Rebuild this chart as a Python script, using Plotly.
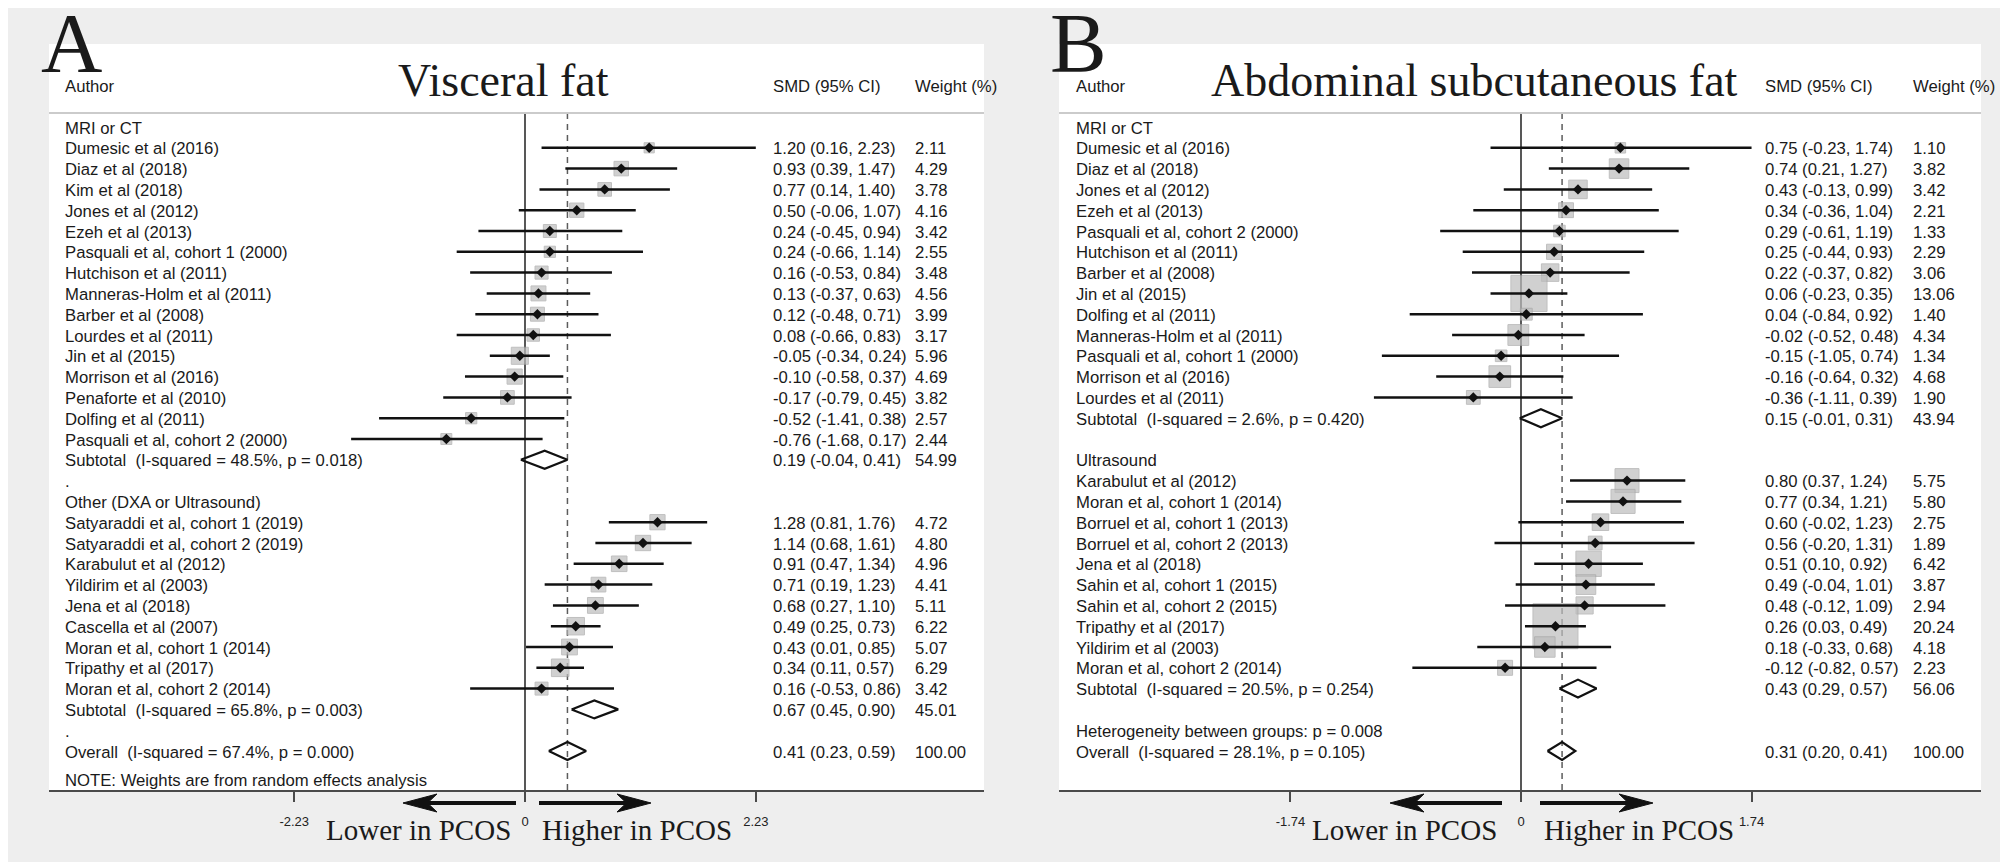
import plotly.graph_objects as go

W, H = 2008, 862

# ---------------- Panel A: Visceral fat ----------------
a_title = "Visceral fat"
a_g1_name = "MRI or CT"
a_g1_authors = ["Dumesic et al (2016)", "Diaz et al (2018)", "Kim et al (2018)", "Jones et al (2012)",
                "Ezeh et al (2013)", "Pasquali et al, cohort 1 (2000)", "Hutchison et al (2011)",
                "Manneras-Holm et al (2011)", "Barber et al (2008)", "Lourdes et al (2011)",
                "Jin et al (2015)", "Morrison et al (2016)", "Penaforte et al (2010)",
                "Dolfing et al (2011)", "Pasquali et al, cohort 2 (2000)"]
a_g1_smd = [1.20, 0.93, 0.77, 0.50, 0.24, 0.24, 0.16, 0.13, 0.12, 0.08, -0.05, -0.10, -0.17, -0.52, -0.76]
a_g1_lo = [0.16, 0.39, 0.14, -0.06, -0.45, -0.66, -0.53, -0.37, -0.48, -0.66, -0.34, -0.58, -0.79, -1.41, -1.68]
a_g1_hi = [2.23, 1.47, 1.40, 1.07, 0.94, 1.14, 0.84, 0.63, 0.71, 0.83, 0.24, 0.37, 0.45, 0.38, 0.17]
a_g1_wt = [2.11, 4.29, 3.78, 4.16, 3.42, 2.55, 3.48, 4.56, 3.99, 3.17, 5.96, 4.69, 3.82, 2.57, 2.44]
a_g1_sub = [0.19, -0.04, 0.41, 54.99]
a_g1_sub_label = "Subtotal  (I-squared = 48.5%, p = 0.018)"

a_g2_name = "Other (DXA or Ultrasound)"
a_g2_authors = ["Satyaraddi et al, cohort 1 (2019)", "Satyaraddi et al, cohort 2 (2019)",
                "Karabulut et al (2012)", "Yildirim et al (2003)", "Jena et al (2018)",
                "Cascella et al (2007)", "Moran et al, cohort 1 (2014)", "Tripathy et al (2017)",
                "Moran et al, cohort 2 (2014)"]
a_g2_smd = [1.28, 1.14, 0.91, 0.71, 0.68, 0.49, 0.43, 0.34, 0.16]
a_g2_lo = [0.81, 0.68, 0.47, 0.19, 0.27, 0.25, 0.01, 0.11, -0.53]
a_g2_hi = [1.76, 1.61, 1.34, 1.23, 1.10, 0.73, 0.85, 0.57, 0.86]
a_g2_wt = [4.72, 4.80, 4.96, 4.41, 5.11, 6.22, 5.07, 6.29, 3.42]
a_g2_sub = [0.67, 0.45, 0.90, 45.01]
a_g2_sub_label = "Subtotal  (I-squared = 65.8%, p = 0.003)"

a_overall = [0.41, 0.23, 0.59, 100.00]
a_overall_label = "Overall  (I-squared = 67.4%, p = 0.000)"
a_note = "NOTE: Weights are from random effects analysis"
a_tickvals = [-2.23, 0, 2.23]
a_ticktext = ["-2.23", "0", "2.23"]

# ---------------- Panel B: Abdominal subcutaneous fat ----------------
b_title = "Abdominal subcutaneous fat"
b_g1_name = "MRI or CT"
b_g1_authors = ["Dumesic et al (2016)", "Diaz et al (2018)", "Jones et al (2012)", "Ezeh et al (2013)",
                "Pasquali et al, cohort 2 (2000)", "Hutchison et al (2011)", "Barber et al (2008)",
                "Jin et al (2015)", "Dolfing et al (2011)", "Manneras-Holm et al (2011)",
                "Pasquali et al, cohort 1 (2000)", "Morrison et al (2016)", "Lourdes et al (2011)"]
b_g1_smd = [0.75, 0.74, 0.43, 0.34, 0.29, 0.25, 0.22, 0.06, 0.04, -0.02, -0.15, -0.16, -0.36]
b_g1_lo = [-0.23, 0.21, -0.13, -0.36, -0.61, -0.44, -0.37, -0.23, -0.84, -0.52, -1.05, -0.64, -1.11]
b_g1_hi = [1.74, 1.27, 0.99, 1.04, 1.19, 0.93, 0.82, 0.35, 0.92, 0.48, 0.74, 0.32, 0.39]
b_g1_wt = [1.10, 3.82, 3.42, 2.21, 1.33, 2.29, 3.06, 13.06, 1.40, 4.34, 1.34, 4.68, 1.90]
b_g1_sub = [0.15, -0.01, 0.31, 43.94]
b_g1_sub_label = "Subtotal  (I-squared = 2.6%, p = 0.420)"

b_g2_name = "Ultrasound"
b_g2_authors = ["Karabulut et al (2012)", "Moran et al, cohort 1 (2014)", "Borruel et al, cohort 1 (2013)",
                "Borruel et al, cohort 2 (2013)", "Jena et al (2018)", "Sahin et al, cohort 1 (2015)",
                "Sahin et al, cohort 2 (2015)", "Tripathy et al (2017)", "Yildirim et al (2003)",
                "Moran et al, cohort 2 (2014)"]
b_g2_smd = [0.80, 0.77, 0.60, 0.56, 0.51, 0.49, 0.48, 0.26, 0.18, -0.12]
b_g2_lo = [0.37, 0.34, -0.02, -0.20, 0.10, -0.04, -0.12, 0.03, -0.33, -0.82]
b_g2_hi = [1.24, 1.21, 1.23, 1.31, 0.92, 1.01, 1.09, 0.49, 0.68, 0.57]
b_g2_wt = [5.75, 5.80, 2.75, 1.89, 6.42, 3.87, 2.94, 20.24, 4.18, 2.23]
b_g2_sub = [0.43, 0.29, 0.57, 56.06]
b_g2_sub_label = "Subtotal  (I-squared = 20.5%, p = 0.254)"

b_heterogeneity = "Heterogeneity between groups: p = 0.008"
b_overall = [0.31, 0.20, 0.41, 100.00]
b_overall_label = "Overall  (I-squared = 28.1%, p = 0.105)"
b_tickvals = [-1.74, 0, 1.74]
b_ticktext = ["-1.74", "0", "1.74"]

# ---------------- layout constants (pixels) ----------------
SANS = "Liberation Sans, Arial, sans-serif"
SERIF = "Liberation Serif, Times New Roman, serif"
TXT = "#1a1a1a"
BOX_TOP, BOX_BOT, HEAD_LINE = 36, 782, 105
ROW0, ROW_H = 119, 20.8
BODY = 16.7


def row_of(py):
    return (py - ROW0) / ROW_H


def nb(s):
    return s.replace("  ", "\u00a0 ")


PANELS = [
    dict(key="A", xa="x", title=a_title, box=(41, 976), zero=517, scale=103.5,
         author_x=55, smd_x=763, wt_x=905, title_cx=495, letter_x=63, sq_k=7.0,
         arrows=(395, 508, 531, 643), lower_r=505, higher_l=532,
         groups=[(a_g1_name, a_g1_authors, a_g1_smd, a_g1_lo, a_g1_hi, a_g1_wt, a_g1_sub, a_g1_sub_label),
                 (a_g2_name, a_g2_authors, a_g2_smd, a_g2_lo, a_g2_hi, a_g2_wt, a_g2_sub, a_g2_sub_label)],
         spacer=".", pre_overall=[], overall=a_overall, overall_label=a_overall_label,
         tickvals=a_tickvals, ticktext=a_ticktext, note=a_note),
    dict(key="B", xa="x2", title=b_title, box=(1051, 1973), zero=1513, scale=132.5,
         author_x=1066, smd_x=1755, wt_x=1903, title_cx=1466, letter_x=1070, sq_k=10.0,
         arrows=(1382, 1494, 1532, 1645), lower_r=1491, higher_l=1534,
         groups=[(b_g1_name, b_g1_authors, b_g1_smd, b_g1_lo, b_g1_hi, b_g1_wt, b_g1_sub, b_g1_sub_label),
                 (b_g2_name, b_g2_authors, b_g2_smd, b_g2_lo, b_g2_hi, b_g2_wt, b_g2_sub, b_g2_sub_label)],
         spacer="", pre_overall=[b_heterogeneity], overall=b_overall, overall_label=b_overall_label,
         tickvals=b_tickvals, ticktext=b_ticktext, note=None),
]

fig = go.Figure()
annotations = []
shapes = []


def ann(x_px, y, text, yref="y", size=BODY, anchor="left", family=SANS, yanchor="middle"):
    annotations.append(dict(x=x_px / W, xref="paper", y=y, yref=yref, text=text, showarrow=False,
                            xanchor=anchor, yanchor=yanchor,
                            font=dict(family=family, size=size, color=TXT)))


def ppy(py):
    return 1 - py / H


def fmt_ci(e, l, h):
    return f"{e:.2f} ({l:.2f}, {h:.2f})"


layout_axes = {}
for i, P in enumerate(PANELS):
    xa = P["xa"]
    # build rows
    rows = []
    for (gname, auth, smd, lo, hi, wt, sub, sublab) in P["groups"]:
        rows.append(("head", gname, None))
        for a_, e_, l_, h_, w_ in zip(auth, smd, lo, hi, wt):
            rows.append(("study", a_, (e_, l_, h_, w_)))
        rows.append(("pooled", sublab, tuple(sub)))
        rows.append(("text", P["spacer"], None))
    for t in P["pre_overall"]:
        rows.append(("text", t, None))
    rows.append(("pooled", P["overall_label"], tuple(P["overall"])))

    st_x, st_y, st_w = [], [], []
    ci_x, ci_y = [], []
    dm_x, dm_y = [], []
    for r, (kind, label, vals) in enumerate(rows):
        ty = r + 1.0 / ROW_H
        if label:
            ann(P["author_x"], ty, nb(label))
        if kind == "study":
            e_, l_, h_, w_ = vals
            st_x.append(e_); st_y.append(r); st_w.append(w_)
            ci_x += [l_, h_, None]; ci_y += [r, r, None]
        if kind in ("study", "pooled"):
            e_, l_, h_, w_ = vals
            ann(P["smd_x"], ty, fmt_ci(e_, l_, h_))
            ann(P["wt_x"], ty, f"{w_:.2f}")
        if kind == "pooled":
            e_, l_, h_, w_ = vals
            hh = 9.0 / ROW_H
            dm_x += [l_, e_, h_, e_, l_, None]
            dm_y += [r, r - hh, r, r + hh, r, None]

    y_top, y_bot = row_of(HEAD_LINE), row_of(BOX_BOT)
    ov = P["overall"][0]
    # reference lines
    fig.add_trace(go.Scatter(x=[0, 0], y=[y_top, y_bot], mode="lines", xaxis=xa, yaxis="y",
                             line=dict(color="#2e2e2e", width=1.6), hoverinfo="skip", showlegend=False))
    fig.add_trace(go.Scatter(x=[ov, ov], y=[y_top, y_bot], mode="lines", xaxis=xa, yaxis="y",
                             line=dict(color="#5c5c5c", width=1.5, dash="6px,5px"),
                             hoverinfo="skip", showlegend=False))
    # weight squares
    sizes = [P["sq_k"] * (w ** 0.5) for w in st_w]
    fig.add_trace(go.Scatter(x=st_x, y=st_y, mode="markers", xaxis=xa, yaxis="y",
                             marker=dict(symbol="square", size=sizes, color="#bdbdbd",
                                         line=dict(color="#a5a5a5", width=1)),
                             hoverinfo="skip", showlegend=False))
    # CI lines
    fig.add_trace(go.Scatter(x=ci_x, y=ci_y, mode="lines", xaxis=xa, yaxis="y",
                             line=dict(color="#111111", width=2.5), hoverinfo="skip", showlegend=False))
    # point estimates
    fig.add_trace(go.Scatter(x=st_x, y=st_y, mode="markers", xaxis=xa, yaxis="y",
                             marker=dict(symbol="diamond", size=8, color="#111111"),
                             hoverinfo="skip", showlegend=False))
    # pooled diamonds
    fig.add_trace(go.Scatter(x=dm_x, y=dm_y, mode="lines", xaxis=xa, yaxis="y",
                             line=dict(color="#111111", width=2.2), hoverinfo="skip", showlegend=False))

    bl, br = P["box"]
    axname = "xaxis" if xa == "x" else "xaxis2"
    layout_axes[axname] = dict(
        domain=[bl / W, br / W], anchor="y",
        range=[(bl - P["zero"]) / P["scale"], (br - P["zero"]) / P["scale"]],
        showline=True, linecolor="#4a4a4a", linewidth=2, mirror=False,
        ticks="outside", ticklen=10, tickwidth=1.5, tickcolor="#4a4a4a",
        tickmode="array", tickvals=P["tickvals"], ticktext=P["ticktext"],
        tickfont=dict(family=SANS, size=13, color="#222222"), ticklabelstandoff=8,
        showgrid=False, zeroline=False, fixedrange=True)

    # header
    ann(P["author_x"], ppy(78), "Author", yref="paper")
    ann(P["smd_x"], ppy(78), "SMD (95% CI)", yref="paper")
    ann(P["wt_x"], ppy(78), "Weight (%)", yref="paper")
    ann(P["title_cx"], ppy(72.5), P["title"], yref="paper", size=46, anchor="center", family=SERIF)
    ann(P["letter_x"], ppy(35.5), P["key"], yref="paper", size=85, anchor="center", family=SERIF)
    shapes.append(dict(type="line", xref="paper", yref="paper", x0=bl / W, x1=br / W,
                       y0=ppy(HEAD_LINE), y1=ppy(HEAD_LINE), line=dict(color="#cbcbcb", width=2)))
    if P["note"]:
        ann(P["author_x"], ppy(772), P["note"], yref="paper")

    # direction arrows and labels
    lt, ltail, rtail, rt = P["arrows"]
    ay = 795
    L, HH = 34, 9
    for tip, tail, d in ((lt, ltail, 1), (rt, rtail, -1)):
        shapes.append(dict(type="line", xref="paper", yref="paper",
                           x0=(tip + d * L * 0.6) / W, x1=tail / W, y0=ppy(ay), y1=ppy(ay),
                           line=dict(color="#111111", width=4)))
        pts = [(tip, ay), (tip + d * L, ay - HH), (tip + d * L * 0.72, ay), (tip + d * L, ay + HH)]
        path = "M " + " L ".join(f"{x / W:.6f},{ppy(y):.6f}" for x, y in pts) + " Z"
        shapes.append(dict(type="path", xref="paper", yref="paper", path=path,
                           fillcolor="#111111", line=dict(color="#111111", width=1)))
    ann(P["lower_r"], ppy(822), "Lower in PCOS", yref="paper", size=29, anchor="right", family=SERIF)
    ann(P["higher_l"], ppy(822), "Higher in PCOS", yref="paper", size=29, anchor="left", family=SERIF)

fig.update_layout(
    width=W, height=H, margin=dict(l=0, r=0, t=0, b=0),
    paper_bgcolor="#eeeeee", plot_bgcolor="#ffffff",
    yaxis=dict(domain=[(H - BOX_BOT) / H, (H - BOX_TOP) / H],
               range=[row_of(BOX_BOT), row_of(BOX_TOP)], visible=False, fixedrange=True),
    annotations=annotations, shapes=shapes, showlegend=False,
    **layout_axes,
)

fig.write_html("out.html")
